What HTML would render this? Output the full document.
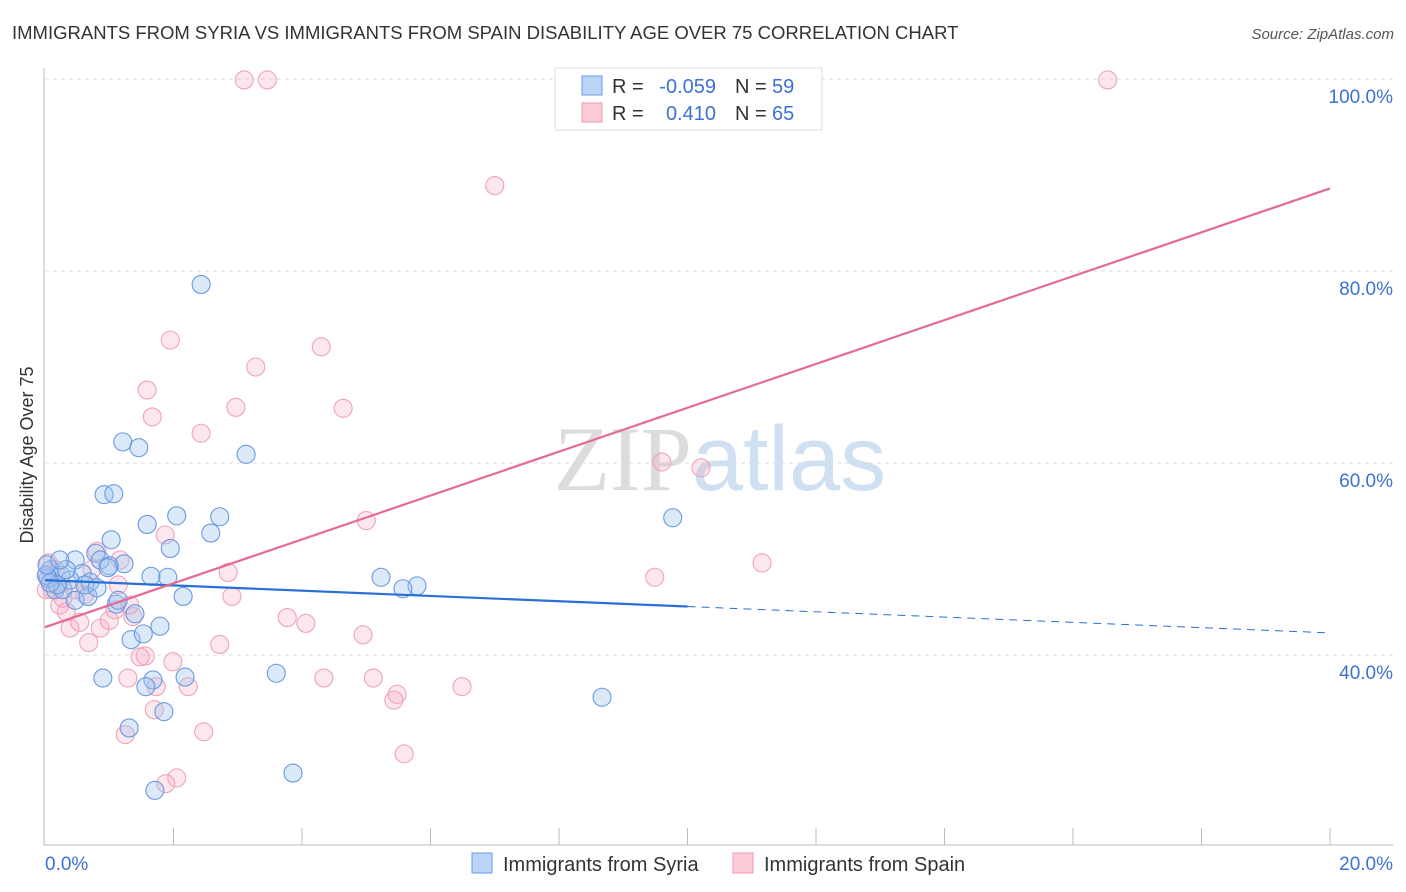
<!DOCTYPE html>
<html><head><meta charset="utf-8"><style>
body{margin:0;background:#fff;font-family:"Liberation Sans",sans-serif;}
svg{display:block}
</style></head><body>
<svg id="chart" width="1406" height="892">
<text x="12" y="39" font-size="18.5" fill="#333">IMMIGRANTS FROM SYRIA VS IMMIGRANTS FROM SPAIN DISABILITY AGE OVER 75 CORRELATION CHART</text>
<text x="1394" y="39" font-size="15" fill="#555" font-style="italic" text-anchor="end">Source: ZipAtlas.com</text>
<text x="720" y="490" font-size="92" text-anchor="middle"><tspan fill="#dcdcdc" font-family="Liberation Serif">ZIP</tspan><tspan fill="#cfe0f2">atlas</tspan></text>
<g id="grid"></g>
<line x1="44" y1="68" x2="44" y2="845" stroke="#bbb"/>
<line x1="44" y1="845" x2="1393" y2="845" stroke="#bbb"/>
<g id="xticks"></g>
<text x="33" y="455" font-size="18" fill="#333" text-anchor="middle" transform="rotate(-90 33 455)">Disability Age Over 75</text>
<text x="45" y="870" font-size="19" fill="#3d72d4">0.0%</text>
<text x="1393" y="870" font-size="19" fill="#3d72d4" text-anchor="end">20.0%</text>
<g id="pts"></g>
<g id="lines"></g>
<g>
<rect x="555" y="68" width="267" height="62" fill="#fff" stroke="#ddd"/>
<rect x="582" y="76" width="20" height="19" fill="#bcd4f6" stroke="#6b9be6"/>
<rect x="582" y="103" width="20" height="19" fill="#fbcbd8" stroke="#ee9ab2"/>
<text x="612" y="93" font-size="20" fill="#333">R =</text>
<text x="716" y="93" font-size="20" fill="#3d72d4" text-anchor="end">-0.059</text>
<text x="735" y="93" font-size="20" fill="#333">N =</text>
<text x="772" y="93" font-size="20" fill="#3d72d4">59</text>
<text x="612" y="120" font-size="20" fill="#333">R =</text>
<text x="716" y="120" font-size="20" fill="#3d72d4" text-anchor="end">0.410</text>
<text x="735" y="120" font-size="20" fill="#333">N =</text>
<text x="772" y="120" font-size="20" fill="#3d72d4">65</text>
</g>
<g>
<rect x="472" y="853" width="20" height="20" fill="#bcd4f6" stroke="#6b9be6"/>
<text x="503" y="871" font-size="20" fill="#333">Immigrants from Syria</text>
<rect x="733" y="853" width="20" height="20" fill="#fbcbd8" stroke="#ee9ab2"/>
<text x="764" y="871" font-size="20" fill="#333">Immigrants from Spain</text>
</g>
</svg>
<script>
const yTicks=[40,60,80,100];
const yTickLabels=["40.0%","60.0%","80.0%","100.0%"];
const xTickVals=[2,4,6,8,10,12,14,16,18,20];
const syriaX=[2.43,1.21,1.46,3.13,0.92,1.07,2.05,2.72,1.59,2.58,9.77,1.03,0.79,0.47,1.23,0.86,1.95,1.65,1.91,5.23,5.79,5.57,0.09,0.25,0.58,0.70,0.16,0.28,0.47,0.67,1.11,1.40,1.79,1.34,1.53,2.15,2.18,0.90,3.60,1.68,1.57,1.31,1.85,3.86,1.71,8.67,1.00,0.39,0.05,0.19,0.33,0.62,0.81,1.14,0.98,0.02,0.08,0.03,0.23];
const syriaY=[78.6,62.2,61.6,60.9,56.7,56.8,54.5,54.4,53.6,52.7,54.3,52.0,50.6,49.9,49.5,49.9,51.1,48.2,48.1,48.1,47.2,46.9,48.9,48.3,48.5,47.6,46.8,46.8,45.7,46.1,45.3,44.3,43.0,41.6,42.2,46.1,37.7,37.6,38.1,37.4,36.7,32.4,34.1,27.7,25.9,35.6,49.3,47.8,48.0,47.3,48.9,47.3,47.0,45.7,49.1,48.3,47.5,49.4,49.9];
const spainX=[3.10,3.46,16.54,8.28,7.00,1.95,4.30,3.28,1.59,1.67,2.97,4.64,2.43,9.60,10.21,5.00,1.87,11.16,9.49,2.85,2.91,0.81,1.17,3.77,4.06,4.95,2.72,0.68,1.48,1.56,1.99,1.29,1.73,2.23,4.34,5.11,6.49,5.48,5.43,1.70,2.47,1.25,5.59,2.05,1.88,0.23,0.39,0.54,0.86,1.00,0.62,0.11,0.28,0.03,0.16,0.47,1.14,1.37,1.09,0.73,0.05,0.20,1.32,0.02,0.33];
const spainY=[99.9,99.9,99.9,99.9,88.9,72.8,72.1,70.0,67.6,64.8,65.8,65.7,63.1,60.1,59.5,54.0,52.5,49.6,48.1,48.6,46.1,50.8,49.9,43.9,43.3,42.1,41.1,41.3,39.8,39.9,39.3,37.6,36.7,36.7,37.6,37.6,36.7,35.9,35.3,34.3,32.0,31.7,29.7,27.2,26.6,45.2,42.8,43.4,42.8,43.6,46.3,46.8,45.9,48.3,48.9,46.8,47.3,44.0,44.7,48.9,49.6,47.3,45.2,46.8,44.5];
const syriaTrend=[47.8,42.3];
const spainTrend=[42.9,88.6];
const NS="http://www.w3.org/2000/svg";
const sx=v=>45+v*64.25;
const sy=v=>1039-v*9.6;
function mk(tag,attrs,parent){const e=document.createElementNS(NS,tag);for(const k in attrs)e.setAttribute(k,attrs[k]);parent.appendChild(e);return e;}
const grid=document.getElementById('grid');
yTicks.forEach((t,i)=>{
 const l=mk('line',{x1:45,x2:1393,y1:sy(t),y2:sy(t),stroke:'#ddd','stroke-dasharray':'4,4'},grid);
 
 
 const tx=mk('text',{x:1393,y:sy(t)+24,'font-size':19,fill:'#3d72d4','text-anchor':'end'},grid);
 tx.textContent=yTickLabels[i];
 
 
});
const xt=document.getElementById('xticks');
xTickVals.forEach(v=>{
 const l=mk('line',{x1:sx(v),x2:sx(v),y1:828,y2:845,stroke:'#bbb'},xt);
 
 
});
const pts=document.getElementById('pts');
spainX.forEach((x,i)=>{
 const c=mk('circle',{cx:sx(x),cy:sy(spainY[i]),r:9,fill:'rgba(246,170,192,0.28)',stroke:'#f0a3ba','stroke-width':1.1},pts);
 
 
});
syriaX.forEach((x,i)=>{
 const c=mk('circle',{cx:sx(x),cy:sy(syriaY[i]),r:9,fill:'rgba(160,196,240,0.38)',stroke:'#6a9ae2','stroke-width':1.1},pts);
 
 
});
const lg=document.getElementById('lines');
const by=x=>syriaTrend[0]+(syriaTrend[1]-syriaTrend[0])*x/20;
const l1=mk('line',{x1:sx(0),y1:sy(by(0)),x2:sx(10),y2:sy(by(10)),stroke:'#2a6fd6','stroke-width':2.2},lg);


const l2=mk('line',{x1:sx(10),y1:sy(by(10)),x2:sx(20),y2:sy(by(20)),stroke:'#2a6fd6','stroke-width':1,'stroke-dasharray':'8,6'},lg);


const l3=mk('line',{x1:sx(0),y1:sy(spainTrend[0]),x2:sx(20),y2:sy(spainTrend[1]),stroke:'#e56a94','stroke-width':2.2},lg);


</script>
</body></html>
